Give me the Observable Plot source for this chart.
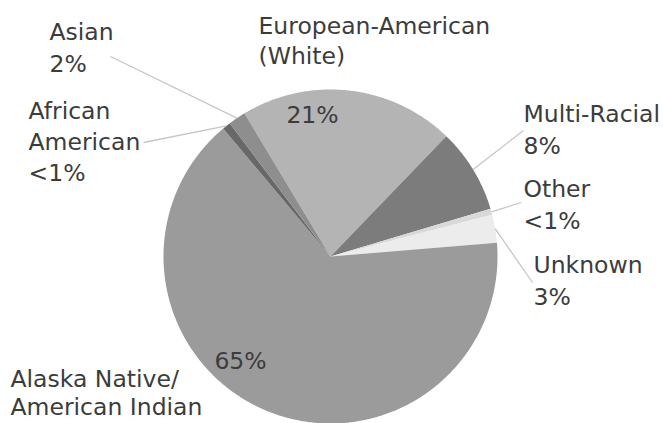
<!DOCTYPE html>
<html>
<head>
<meta charset="utf-8">
<script src="https://cdn.jsdelivr.net/npm/d3@7"></script>
<script src="https://cdn.jsdelivr.net/npm/@observablehq/plot@0.6"></script>
<style>
  html, body { margin: 0; padding: 0; background: #fff; }
</style>
</head>
<body>
<div id="chart"></div>
<script>
// ---- data ----
const categories = [
  "European-American (White)",
  "Multi-Racial",
  "Other",
  "Unknown",
  "Alaska Native/American Indian",
  "African American",
  "Asian"
];
const values = [20.8, 8.2, 0.6, 2.7, 65.2, 0.8, 1.7];
const percentLabels = ["21%", "8%", "<1%", "3%", "65%", "<1%", "2%"];
const labelLines = [
  ["European-American", "(White)"],
  ["Multi-Racial"],
  ["Other"],
  ["Unknown"],
  ["Alaska Native/", "American Indian"],
  ["African", "American"],
  ["Asian"]
];
const percentInside = [true, false, false, false, true, false, false];

// ---- styles ----
const colors = ["#b4b4b4", "#7c7c7c", "#d9d9d9", "#ececec", "#9b9b9b", "#686868", "#8e8e8e"];
const FS = 23.5;
const textColor = "#3c3c3c";

// ---- layout (pixels) ----
const W = 663, H = 423;
const CX = 330, CY = 256, R = 167;
const START_DEG = -31;
// outside label: left x, first baseline, line spacing, leader start
const outsideLayout = {
  "European-American (White)": {x: 258, y: 33, lh: 30},
  "Multi-Racial": {x: 523, y: 121, lh: 32, lead: [523, 130]},
  "Other": {x: 523, y: 196, lh: 32, lead: [521, 202]},
  "Unknown": {x: 533, y: 272, lh: 32, lead: [532, 282]},
  "Alaska Native/American Indian": {x: 10, y: 386, lh: 28},
  "African American": {x: 28, y: 118, lh: 31, lead: [143, 142]},
  "Asian": {x: 49, y: 39, lh: 32, lead: [110, 56]}
};
const insideLayout = {
  "European-American (White)": {x: 312, y: 122},
  "Alaska Native/American Indian": {x: 240, y: 368}
};

// ---- build geometry from data ----
const rows = categories.map((c, i) => ({name: c, value: values[i], pct: percentLabels[i], lines: labelLines[i], inside: percentInside[i]}));
const pie = d3.pie().sort(null).value(d => d.value)
  .startAngle(START_DEG * Math.PI / 180)
  .endAngle(START_DEG * Math.PI / 180 + 2 * Math.PI);
const arcs = pie(rows);

const polyPts = [];
for (const a of arcs) {
  const n = Math.max(2, Math.ceil((a.endAngle - a.startAngle) / (Math.PI / 360)));
  polyPts.push({name: a.data.name, x: CX, y: CY});
  for (let k = 0; k <= n; k++) {
    const t = a.startAngle + (a.endAngle - a.startAngle) * k / n;
    polyPts.push({name: a.data.name, x: CX + R * Math.sin(t), y: CY - R * Math.cos(t)});
  }
}

// text lines
const textRows = [];
for (const a of arcs) {
  const d = a.data;
  const L = outsideLayout[d.name];
  const lines = d.inside ? d.lines : [...d.lines, d.pct];
  lines.forEach((t, i) => textRows.push({text: t, x: L.x, baseline: L.y + i * L.lh, anchor: "start"}));
  if (d.inside) {
    const I = insideLayout[d.name];
    textRows.push({text: d.pct, x: I.x, baseline: I.y, anchor: "middle"});
  }
}

// leader lines: from label to slice mid-angle on the rim
const leaders = [];
for (const a of arcs) {
  const L = outsideLayout[a.data.name];
  if (!L.lead) continue;
  const m = (a.startAngle + a.endAngle) / 2;
  leaders.push({x1: L.lead[0], y1: L.lead[1], x2: CX + R * Math.sin(m), y2: CY - R * Math.cos(m)});
}

const chart = Plot.plot({
  width: W,
  height: H,
  margin: 0,
  x: {domain: [0, W], range: [0, W], axis: null},
  y: {domain: [0, H], range: [0, H], axis: null},
  color: {domain: categories, range: colors},
  style: {background: "white", fontFamily: "'DejaVu Sans', Verdana, sans-serif"},
  marks: [
    Plot.line(polyPts, {x: "x", y: "y", z: "name", fill: "name", stroke: null, curve: "linear-closed"}),
    Plot.link(leaders, {x1: "x1", y1: "y1", x2: "x2", y2: "y2", stroke: "#c6c6c6", strokeWidth: 1.3}),
    Plot.text(textRows.filter(d => d.anchor === "start"), {
      x: "x", y: d => d.baseline - 0.32 * FS, text: "text",
      textAnchor: "start", fontSize: FS, fill: textColor
    }),
    Plot.text(textRows.filter(d => d.anchor === "middle"), {
      x: "x", y: d => d.baseline - 0.32 * FS, text: "text",
      textAnchor: "middle", fontSize: FS, fill: textColor
    })
  ]
});
document.getElementById("chart").appendChild(chart);
</script>
</body>
</html>
